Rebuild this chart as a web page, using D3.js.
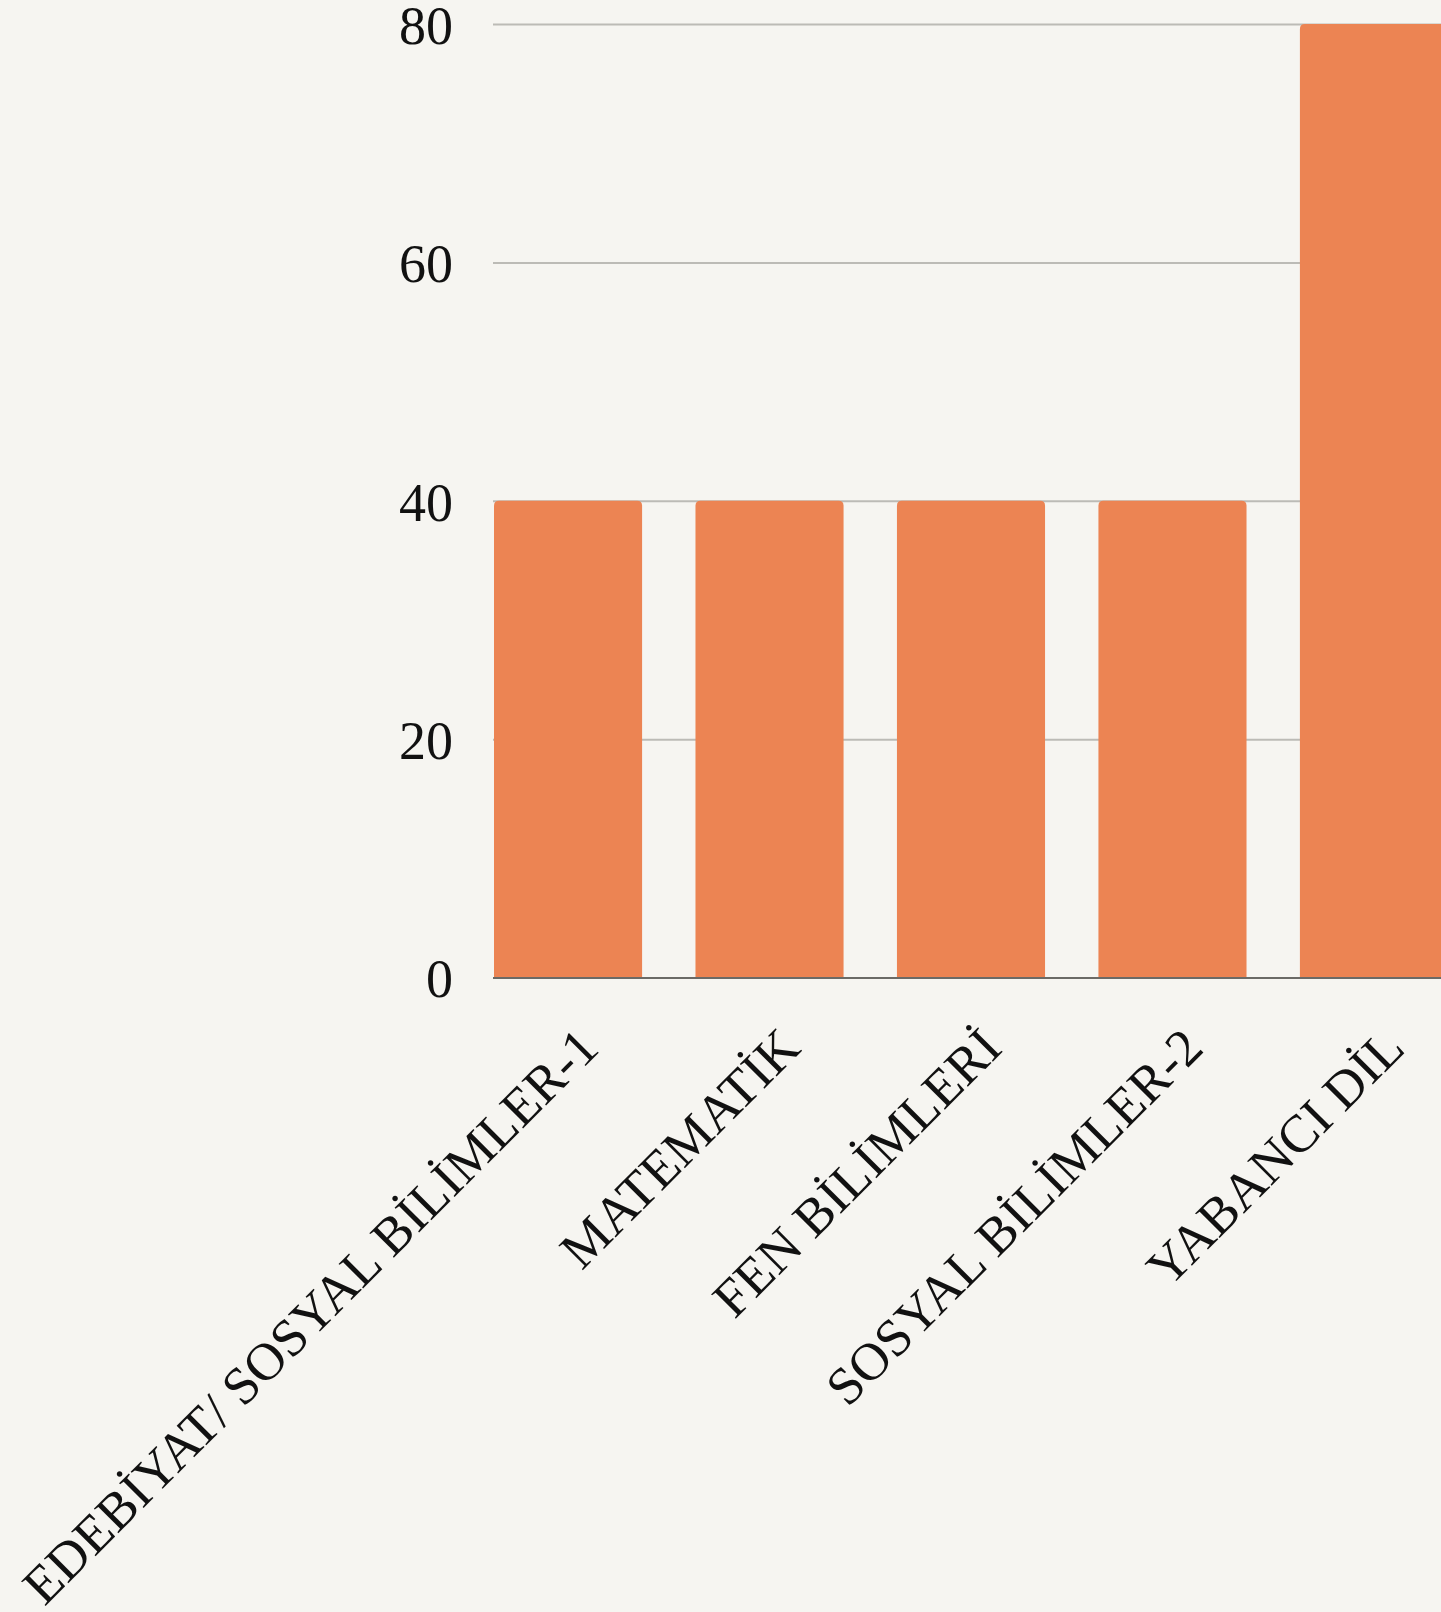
<!DOCTYPE html>
<html>
<head>
<meta charset="utf-8">
<script src="https://cdn.jsdelivr.net/npm/d3@7"></script>
<style>
  html, body { margin: 0; padding: 0; background: #F6F5F1; }
  svg { display: block; }
</style>
</head>
<body>
<svg id="chart" width="1441" height="1612"></svg>
<script>
const categories = ["EDEBİYAT/ SOSYAL BİLİMLER-1", "MATEMATİK", "FEN BİLİMLERİ", "SOSYAL BİLİMLER-2", "YABANCI DİL"];
const values = [40, 40, 40, 40, 80];
const yTicks = [0, 20, 40, 60, 80];

const svg = d3.select("#chart");
const W = 1441, H = 1612;
svg.append("rect").attr("width", W).attr("height", H).attr("fill", "#F6F5F1");

const plotLeft = 493, plotTop = 24, plotBottom = 977.5;
const x = d3.scaleBand().domain(categories).range([494, 1448]).paddingInner(0.265).paddingOuter(0);
const y = d3.scaleLinear().domain([0, 80]).range([plotBottom, plotTop]);

const font = "'Liberation Serif', 'Times New Roman', serif";

// gridlines
const grid = svg.append("g").attr("transform", `translate(${plotLeft},0)`)
  .call(d3.axisLeft(y).tickValues(yTicks.filter(d => d > 0)).tickSize(-(W - plotLeft + 10)).tickFormat(""));
grid.select(".domain").remove();
grid.selectAll("line").attr("stroke", "#BCBBB6").attr("stroke-width", 2);

// bars
const r = 5;
svg.append("g").selectAll("path").data(values).join("path")
  .attr("fill", "#EC8453")
  .attr("d", (d, i) => {
    const x0 = x(categories[i]), w = x.bandwidth(), y0 = y(d), y1 = y(0);
    return `M${x0},${y1}V${y0 + r}Q${x0},${y0} ${x0 + r},${y0}H${x0 + w - r}Q${x0 + w},${y0} ${x0 + w},${y0 + r}V${y1}Z`;
  });

// baseline
svg.append("line").attr("x1", plotLeft).attr("x2", W).attr("y1", y(0) + 0.5).attr("y2", y(0) + 0.5)
  .attr("stroke", "#6B6A66").attr("stroke-width", 2);

// y axis labels
const yAxis = svg.append("g").attr("transform", `translate(${plotLeft - 40},0)`)
  .call(d3.axisLeft(y).tickValues(yTicks).tickSize(0).tickPadding(0));
yAxis.select(".domain").remove();
yAxis.selectAll("text")
  .attr("font-family", font).attr("font-size", 54).attr("fill", "#111")
  .attr("x", 0).attr("dy", "0.36em").attr("text-anchor", "end");

// x axis labels
const xAxis = svg.append("g").attr("transform", `translate(0,${plotBottom})`)
  .call(d3.axisBottom(x).tickSize(0).tickPadding(0));
xAxis.select(".domain").remove();
xAxis.selectAll("text")
  .attr("font-family", font).attr("font-size", 53).attr("fill", "#111")
  .attr("x", 0).attr("y", 0).attr("dy", 0)
  .attr("text-anchor", "end")
  .attr("transform", "translate(33,73) rotate(-45)");
</script>
</body>
</html>
